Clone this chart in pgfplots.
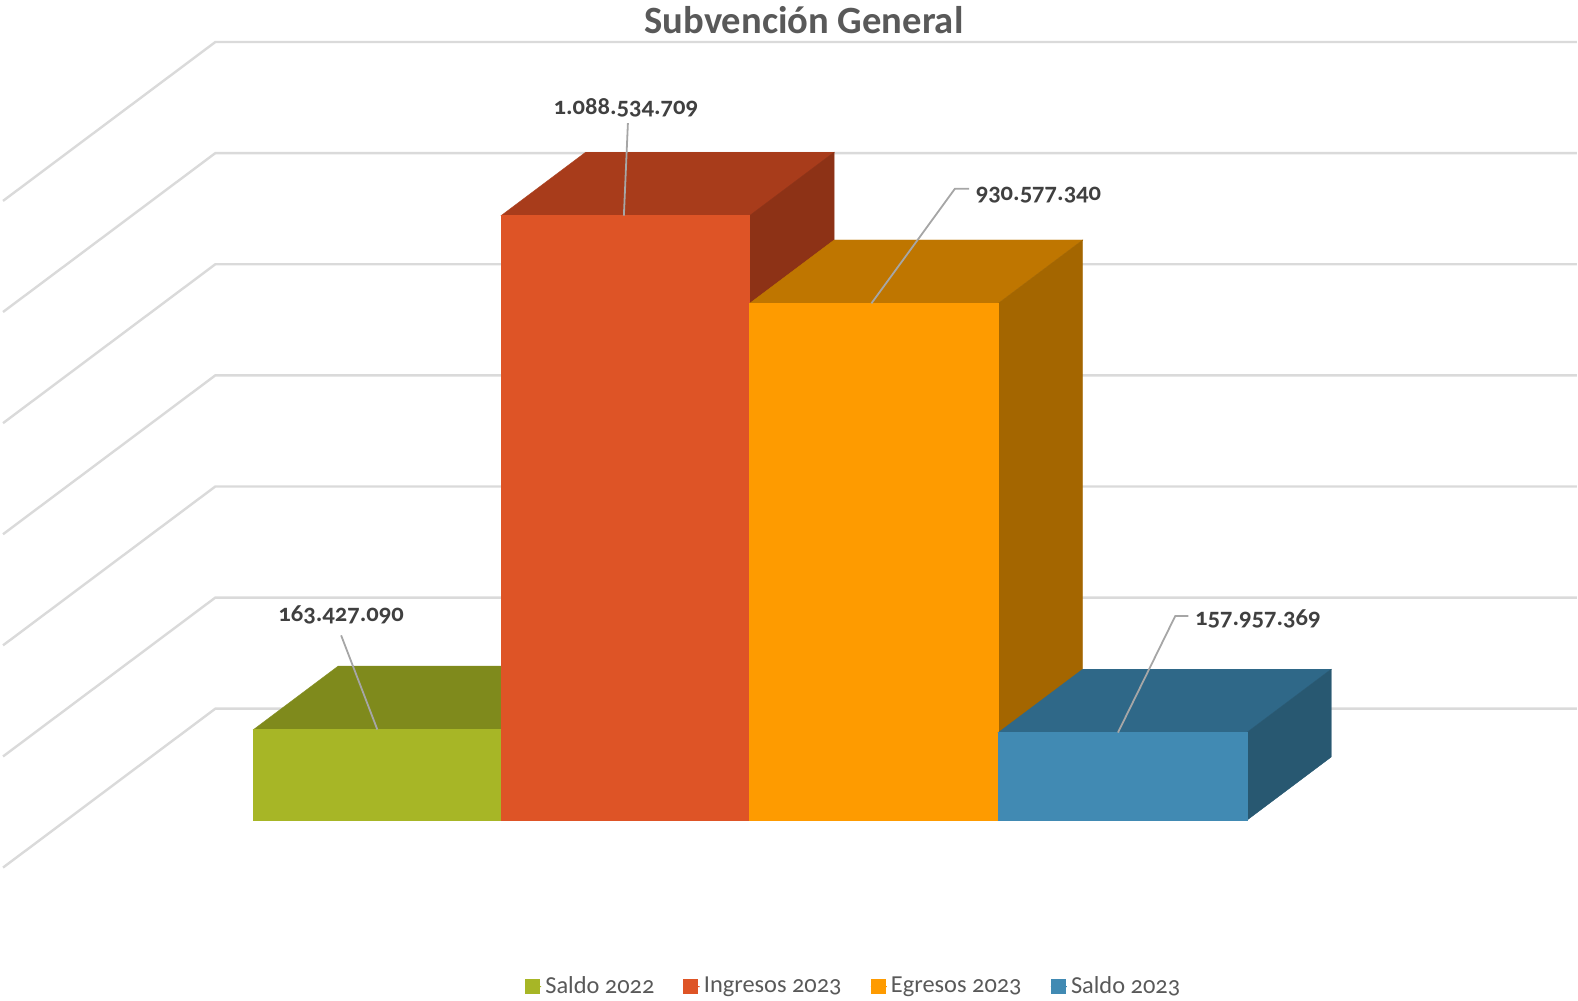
\documentclass[border=0pt]{standalone}
\usepackage{pgfplots}
\pgfplotsset{compat=1.18}
\usepackage{fontspec}
\setmainfont[Numbers=OldStyle]{Carlito}
\definecolor{grn}{HTML}{A7B626}
\definecolor{grnT}{HTML}{7F8A1C}
\definecolor{red}{HTML}{DE5426}
\definecolor{redT}{HTML}{A83C1B}
\definecolor{redS}{HTML}{8D3216}
\definecolor{org}{HTML}{FE9B00}
\definecolor{orgT}{HTML}{BF7600}
\definecolor{orgS}{HTML}{A46600}
\definecolor{blu}{HTML}{418AB3}
\definecolor{bluT}{HTML}{2F6888}
\definecolor{bluS}{HTML}{285871}
\definecolor{gridc}{HTML}{DADADA}
\definecolor{txt}{HTML}{404040}
\definecolor{leadc}{HTML}{A6A6A6}
\begin{document}
\begin{tikzpicture}
\begin{axis}[
    scale only axis,
    width=789pt,
    height=499.5pt,
    xmin=0, xmax=1568,
    ymin=-322750000, ymax=1475228000,
    hide axis,
    clip=false,
    legend columns=4,
    legend cell align=left,
    legend style={at={(0.5416,0.0131)},anchor=center,draw=none,fill=none,
        font=\fontsize{12.2}{14}\selectfont\color{black!65},
        inner sep=0pt,
        /tikz/every even column/.append style={column sep=12.5pt}},
    legend image code/.code={\path (0pt,0pt) rectangle (8pt,0pt);\fill[#1] (0pt,-3.5pt) rectangle (7pt,3.5pt);},
]
% keeps the page as large as the axis
\addplot[forget plot,draw=none] coordinates {(0,-322750000) (1568,1475228000)};
% back wall grid
\addplot[forget plot,gridc,line width=1.2pt] coordinates {(3,-85000000) (214,201000000) (1567,201000000)};
\addplot[forget plot,gridc,line width=1.2pt] coordinates {(3,115000000) (214,401000000) (1567,401000000)};
\addplot[forget plot,gridc,line width=1.2pt] coordinates {(3,315000000) (214,601000000) (1567,601000000)};
\addplot[forget plot,gridc,line width=1.2pt] coordinates {(3,515000000) (214,801000000) (1567,801000000)};
\addplot[forget plot,gridc,line width=1.2pt] coordinates {(3,715000000) (214,1001000000) (1567,1001000000)};
\addplot[forget plot,gridc,line width=1.2pt] coordinates {(3,915000000) (214,1201000000) (1567,1201000000)};
\addplot[forget plot,gridc,line width=1.2pt] coordinates {(3,1115000000) (214,1401000000) (1567,1401000000)};
% Saldo 2022
\addplot[forget plot,fill=grnT,draw=grnT,line width=0.2pt] coordinates {(252,163427090) (498,163427090) (582,277532690) (336,277532690)} --cycle;
\addplot[fill=grn,draw=grn,line width=0.2pt] coordinates {(252,0) (498,0) (498,163427090) (252,163427090)} --cycle;
\addlegendentry{Saldo 2022}
% Ingresos 2023
\addplot[forget plot,fill=redT,draw=redT,line width=0.2pt] coordinates {(498,1088534709) (745,1088534709) (829,1202640309) (582,1202640309)} --cycle;
\addplot[forget plot,fill=redS,draw=redS,line width=0.2pt] coordinates {(745,0) (829,114105600) (829,1202640309) (745,1088534709)} --cycle;
\addplot[fill=red,draw=red,line width=0.2pt] coordinates {(498,0) (745,0) (745,1088534709) (498,1088534709)} --cycle;
\addlegendentry{Ingresos 2023}
% Egresos 2023
\addplot[forget plot,fill=orgT,draw=orgT,line width=0.2pt] coordinates {(745,930577340) (992,930577340) (1076,1044682940) (829,1044682940)} --cycle;
\addplot[forget plot,fill=orgS,draw=orgS,line width=0.2pt] coordinates {(992,0) (1076,114105600) (1076,1044682940) (992,930577340)} --cycle;
\addplot[fill=org,draw=org,line width=0.2pt] coordinates {(745,0) (992,0) (992,930577340) (745,930577340)} --cycle;
\addlegendentry{Egresos 2023}
% Saldo 2023
\addplot[forget plot,fill=bluT,draw=bluT,line width=0.2pt] coordinates {(992,157957369) (1239,157957369) (1323,272062969) (1076,272062969)} --cycle;
\addplot[forget plot,fill=bluS,draw=bluS,line width=0.2pt] coordinates {(1239,0) (1323,114105600) (1323,272062969) (1239,157957369)} --cycle;
\addplot[fill=blu,draw=blu,line width=0.2pt] coordinates {(992,0) (1239,0) (1239,157957369) (992,157957369)} --cycle;
\addlegendentry{Saldo 2023}
% leader lines
\addplot[forget plot,leadc,line width=0.9pt] coordinates {(339,333000000) (375,163427090)};
\addplot[forget plot,leadc,line width=0.9pt] coordinates {(624,1255000000) (620,1088534709)};
\addplot[forget plot,leadc,line width=0.9pt] coordinates {(866,930577340) (949,1137000000) (963,1137000000)};
\addplot[forget plot,leadc,line width=0.9pt] coordinates {(1111,157957369) (1168,368000000) (1181,368000000)};
% labels and title
\node[font=\fontsize{12.3}{14}\selectfont\bfseries,text=txt] at (axis cs:339,369000000) {163.427.090};
\node[font=\fontsize{12.3}{14}\selectfont\bfseries,text=txt] at (axis cs:622,1283000000) {1.088.534.709};
\node[font=\fontsize{12.3}{14}\selectfont\bfseries,text=txt] at (axis cs:1032,1126000000) {930.577.340};
\node[font=\fontsize{12.3}{14}\selectfont\bfseries,text=txt] at (axis cs:1250,362000000) {157.957.369};
\node[font=\fontsize{19.3}{22}\selectfont\bfseries,text=black!65] at (axis cs:799,1440000000) {Subvención General};
\end{axis}
\end{tikzpicture}
\end{document}
